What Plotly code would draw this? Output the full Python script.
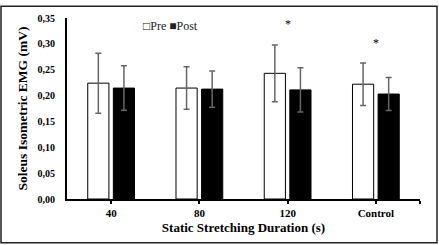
import plotly.graph_objects as go

categories = ["40", "80", "120", "Control"]
pre_mean = [0.224, 0.2145, 0.243, 0.222]
pre_sd = [0.058, 0.041, 0.055, 0.041]
post_mean = [0.2145, 0.2125, 0.211, 0.203]
post_sd = [0.043, 0.035, 0.043, 0.032]
star_cats = [2, 3]
star_y = [0.339, 0.301]

x = list(range(len(categories)))
serif = "Liberation Serif, Times New Roman, serif"

fig = go.Figure()
fig.add_trace(go.Bar(
    x=x, y=pre_mean, width=0.24, offset=-0.265,
    marker=dict(color="white", line=dict(color="black", width=1)),
    error_y=dict(type="data", array=pre_sd, color="#666666", thickness=1.5, width=3),
    name="Pre", showlegend=False, hoverinfo="skip"))
fig.add_trace(go.Bar(
    x=x, y=post_mean, width=0.24, offset=0.025,
    marker=dict(color="black", line=dict(color="black", width=1)),
    error_y=dict(type="data", array=post_sd, color="#666666", thickness=1.5, width=3),
    name="Post", showlegend=False, hoverinfo="skip"))

for c, yv in zip(star_cats, star_y):
    fig.add_annotation(x=c, y=yv, text="*", showarrow=False,
                       font=dict(family=serif, size=12, color="#000000"))

fig.add_annotation(xref="paper", yref="paper", x=(141 - 67) / 353, y=(199 - 21) / 186,
                   xanchor="left", yanchor="middle", showarrow=False,
                   text="□Pre ■Post", font=dict(family=serif, size=12, color="#222222"))

# outer frame
fig.add_shape(type="rect", xref="paper", yref="paper",
              x0=(1 - 67) / 353, x1=(437 - 67) / 353,
              y0=(199 - 244) / 186, y1=(199 - 1) / 186,
              line=dict(color="#222222", width=1.5))

fig.update_layout(
    width=439, height=245,
    margin=dict(l=67, r=19, t=13, b=46),
    paper_bgcolor="white", plot_bgcolor="white",
    separators=",.",
    barmode="overlay",
    font=dict(family=serif, color="black"),
    xaxis=dict(range=[-0.5, 3.5], tickvals=x + [3.5], ticktext=categories + [""],
               showline=True, linecolor="black", linewidth=2,
               ticks="outside", ticklen=3, tickwidth=1.5, tickcolor="black",
               tickfont=dict(family=serif, size=11, color="black", weight="bold"),
               showgrid=False, zeroline=False,
               title=dict(text="<b>Static Stretching Duration (s)</b>",
                          font=dict(family=serif, size=13), standoff=5)),
    yaxis=dict(range=[0, 0.35], tickvals=[0, 0.05, 0.1, 0.15, 0.2, 0.25, 0.3, 0.35],
               tickformat=".2f", showline=True, linecolor="black", linewidth=2,
               ticks="", ticklabelstandoff=8,
               tickfont=dict(family=serif, size=10, color="black", weight="bold"),
               showgrid=False, zeroline=False,
               title=dict(text="<b>Soleus Isometric EMG (mV)</b>",
                          font=dict(family=serif, size=13.5), standoff=7)),
)

fig.write_html("out.html", config={"displayModeBar": False},
               post_script="document.body.style.margin='0';document.body.style.overflow='hidden';")
